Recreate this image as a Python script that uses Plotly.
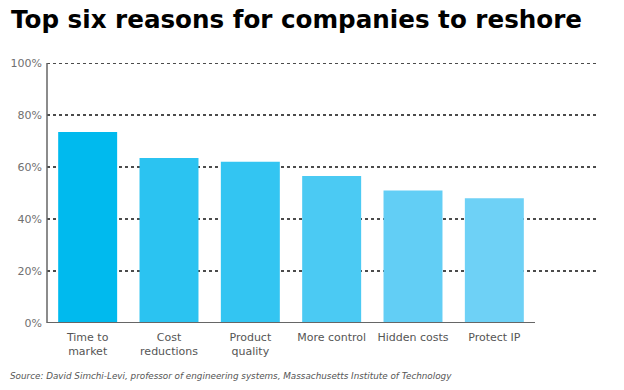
import plotly.graph_objects as go

categories = ["Time to<br>market", "Cost<br>reductions", "Product<br>quality",
              "More control", "Hidden costs", "Protect IP"]
values = [73.5, 63.5, 62, 56.5, 51, 48]
colors = ["#00BAEE", "#2BC3F1", "#33C5F2", "#4BCAF3", "#62CEF5", "#6ED1F6"]
tick_vals = [0, 20, 40, 60, 80, 100]
tick_text = ["0%", "20%", "40%", "60%", "80%", "100%"]

fig = go.Figure(go.Bar(x=categories, y=values, marker=dict(color=colors, line=dict(width=0)),
                       hoverinfo="skip"))

L, R, T, B = 47, 89, 63, 67
W, H = 624, 390
pw = W - L - R
ph = H - T - B
grid_x1 = (597 - L) / pw

shapes = []
for v in tick_vals[1:]:
    shapes.append(dict(type="line", xref="paper", yref="y", x0=0, x1=grid_x1, y0=v, y1=v,
                       line=dict(color="#111111", width=1.3, dash="dot"), layer="below"))
shapes.append(dict(type="line", xref="paper", yref="y", x0=0, x1=1, y0=0, y1=0,
                   line=dict(color="#666666", width=2)))
shapes.append(dict(type="line", xref="paper", yref="y", x0=0, x1=0, y0=0, y1=100,
                   line=dict(color="#666666", width=1.5)))

fig.update_layout(
    width=W, height=H,
    margin=dict(l=L, r=R, t=T, b=B),
    paper_bgcolor="white", plot_bgcolor="white",
    bargap=0.275,
    showlegend=False,
    shapes=shapes,
    xaxis=dict(showgrid=False, zeroline=False, showline=False, ticks="", ticklabelstandoff=6,
               tickfont=dict(family="DejaVu Sans", size=11, color="#555555")),
    yaxis=dict(range=[0, 100], tickvals=tick_vals, ticktext=tick_text, showgrid=False,
               zeroline=False, showline=False, ticks="", ticklabelstandoff=4,
               tickfont=dict(family="DejaVu Sans", size=11, color="#707070")),
    annotations=[
        dict(text="<b>Top six reasons for companies to reshore</b>", xref="paper", yref="paper",
             x=(9 - L) / pw, y=1 + (63 - 20) / ph, xanchor="left", yanchor="middle",
             showarrow=False, font=dict(family="DejaVu Sans", size=24.6, color="black")),
        dict(text="<i>Source: David Simchi-Levi, professor of engineering systems, Massachusetts Institute of Technology</i>",
             xref="paper", yref="paper", x=(8 - L) / pw, y=-(376 - 323) / ph,
             xanchor="left", yanchor="middle", showarrow=False,
             font=dict(family="DejaVu Sans", size=8.8, color="#555555")),
    ],
)

fig.write_html("out.html", config={"displayModeBar": False},
               post_script="document.body.style.margin='0';")
